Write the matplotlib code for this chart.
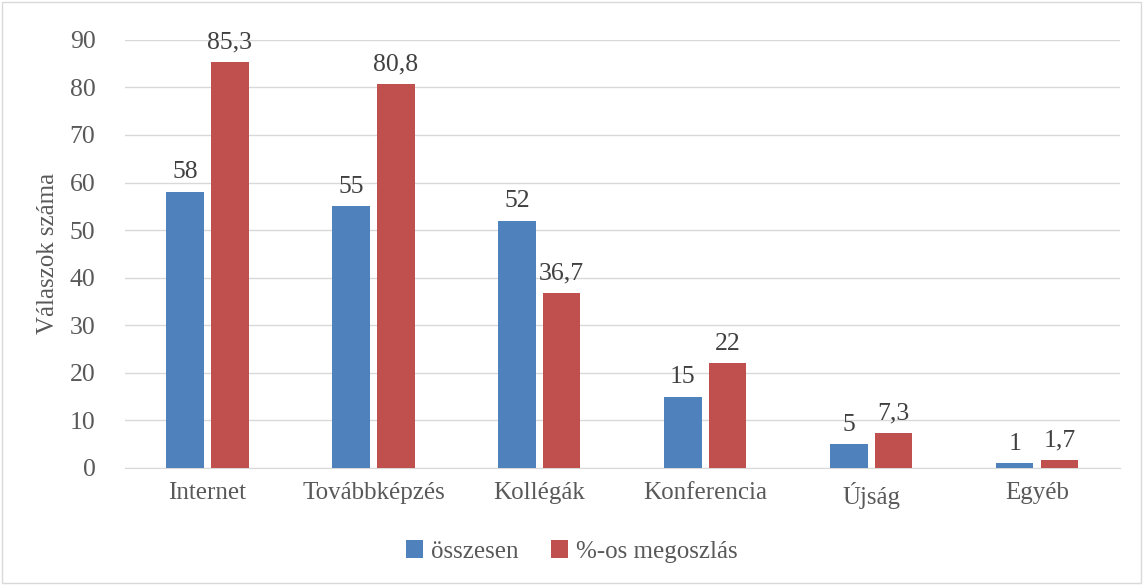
import matplotlib.pyplot as plt
from matplotlib.patches import Rectangle
import numpy as np

plt.rcParams['font.family'] = ['Liberation Serif', 'DejaVu Serif']

categories = ['Internet', 'Továbbképzés', 'Kollégák', 'Konferencia', 'Újság', 'Egyéb']
osszesen = [58, 55, 52, 15, 5, 1]
megoszlas = [85.3, 80.8, 36.7, 22, 7.3, 1.7]
yticks = [0, 10, 20, 30, 40, 50, 60, 70, 80, 90]

blue = '#4F81BD'
red = '#C0504D'
txt = '#595959'

fig = plt.figure(figsize=(11.43, 5.85), dpi=100)
ax = fig.add_axes([0.109, 0.2, 0.871, 0.732])

x = np.arange(len(categories))
w = 0.225
off = 0.135
b1 = ax.bar(x - off, osszesen, w, color=blue, label='összesen', zorder=3)
b2 = ax.bar(x + off, megoszlas, w, color=red, label='%-os megoszlás', zorder=3)


def fmt(v):
    return f'{v:g}'.replace('.', ',')


for bars, vals in ((b1, osszesen), (b2, megoszlas)):
    for rect, v in zip(bars, vals):
        ax.text(rect.get_x() + rect.get_width() / 2, v + 1.8, fmt(v),
                ha='center', va='bottom', fontsize=18.5, color='#404040')

ax.set_xlim(-0.5, len(categories) - 0.5)
ax.set_ylim(0, 90)
ax.set_yticks(yticks)
ax.set_xticks(x)
ax.set_xticklabels(categories, fontsize=18, color=txt)
ax.tick_params(axis='y', labelsize=18.5, labelcolor=txt, length=0, pad=21)
ax.tick_params(axis='x', length=0, pad=10)
ax.yaxis.grid(True, color='#d9d9d9', linewidth=1, zorder=0)
for s in ['top', 'right', 'left']:
    ax.spines[s].set_visible(False)
ax.spines['bottom'].set_color('#d9d9d9')
ax.set_ylabel('Válaszok száma', fontsize=18, color=txt, labelpad=8)

leg = fig.legend(handles=[b1, b2], labels=['összesen', '%-os megoszlás'],
                 loc='center', bbox_to_anchor=(0.5, 0.057), ncol=2, frameon=False,
                 fontsize=18, handlelength=0.7, handleheight=0.7, columnspacing=1.3,
                 handletextpad=0.3)
for t in leg.get_texts():
    t.set_fontfamily(['Liberation Serif'])
    t.set_color(txt)

fig.patches.append(Rectangle((0.002, 0.003), 0.996, 0.994, transform=fig.transFigure,
                             fill=False, edgecolor='#d9d9d9', linewidth=1))

fig.savefig('out.png', dpi=100)
